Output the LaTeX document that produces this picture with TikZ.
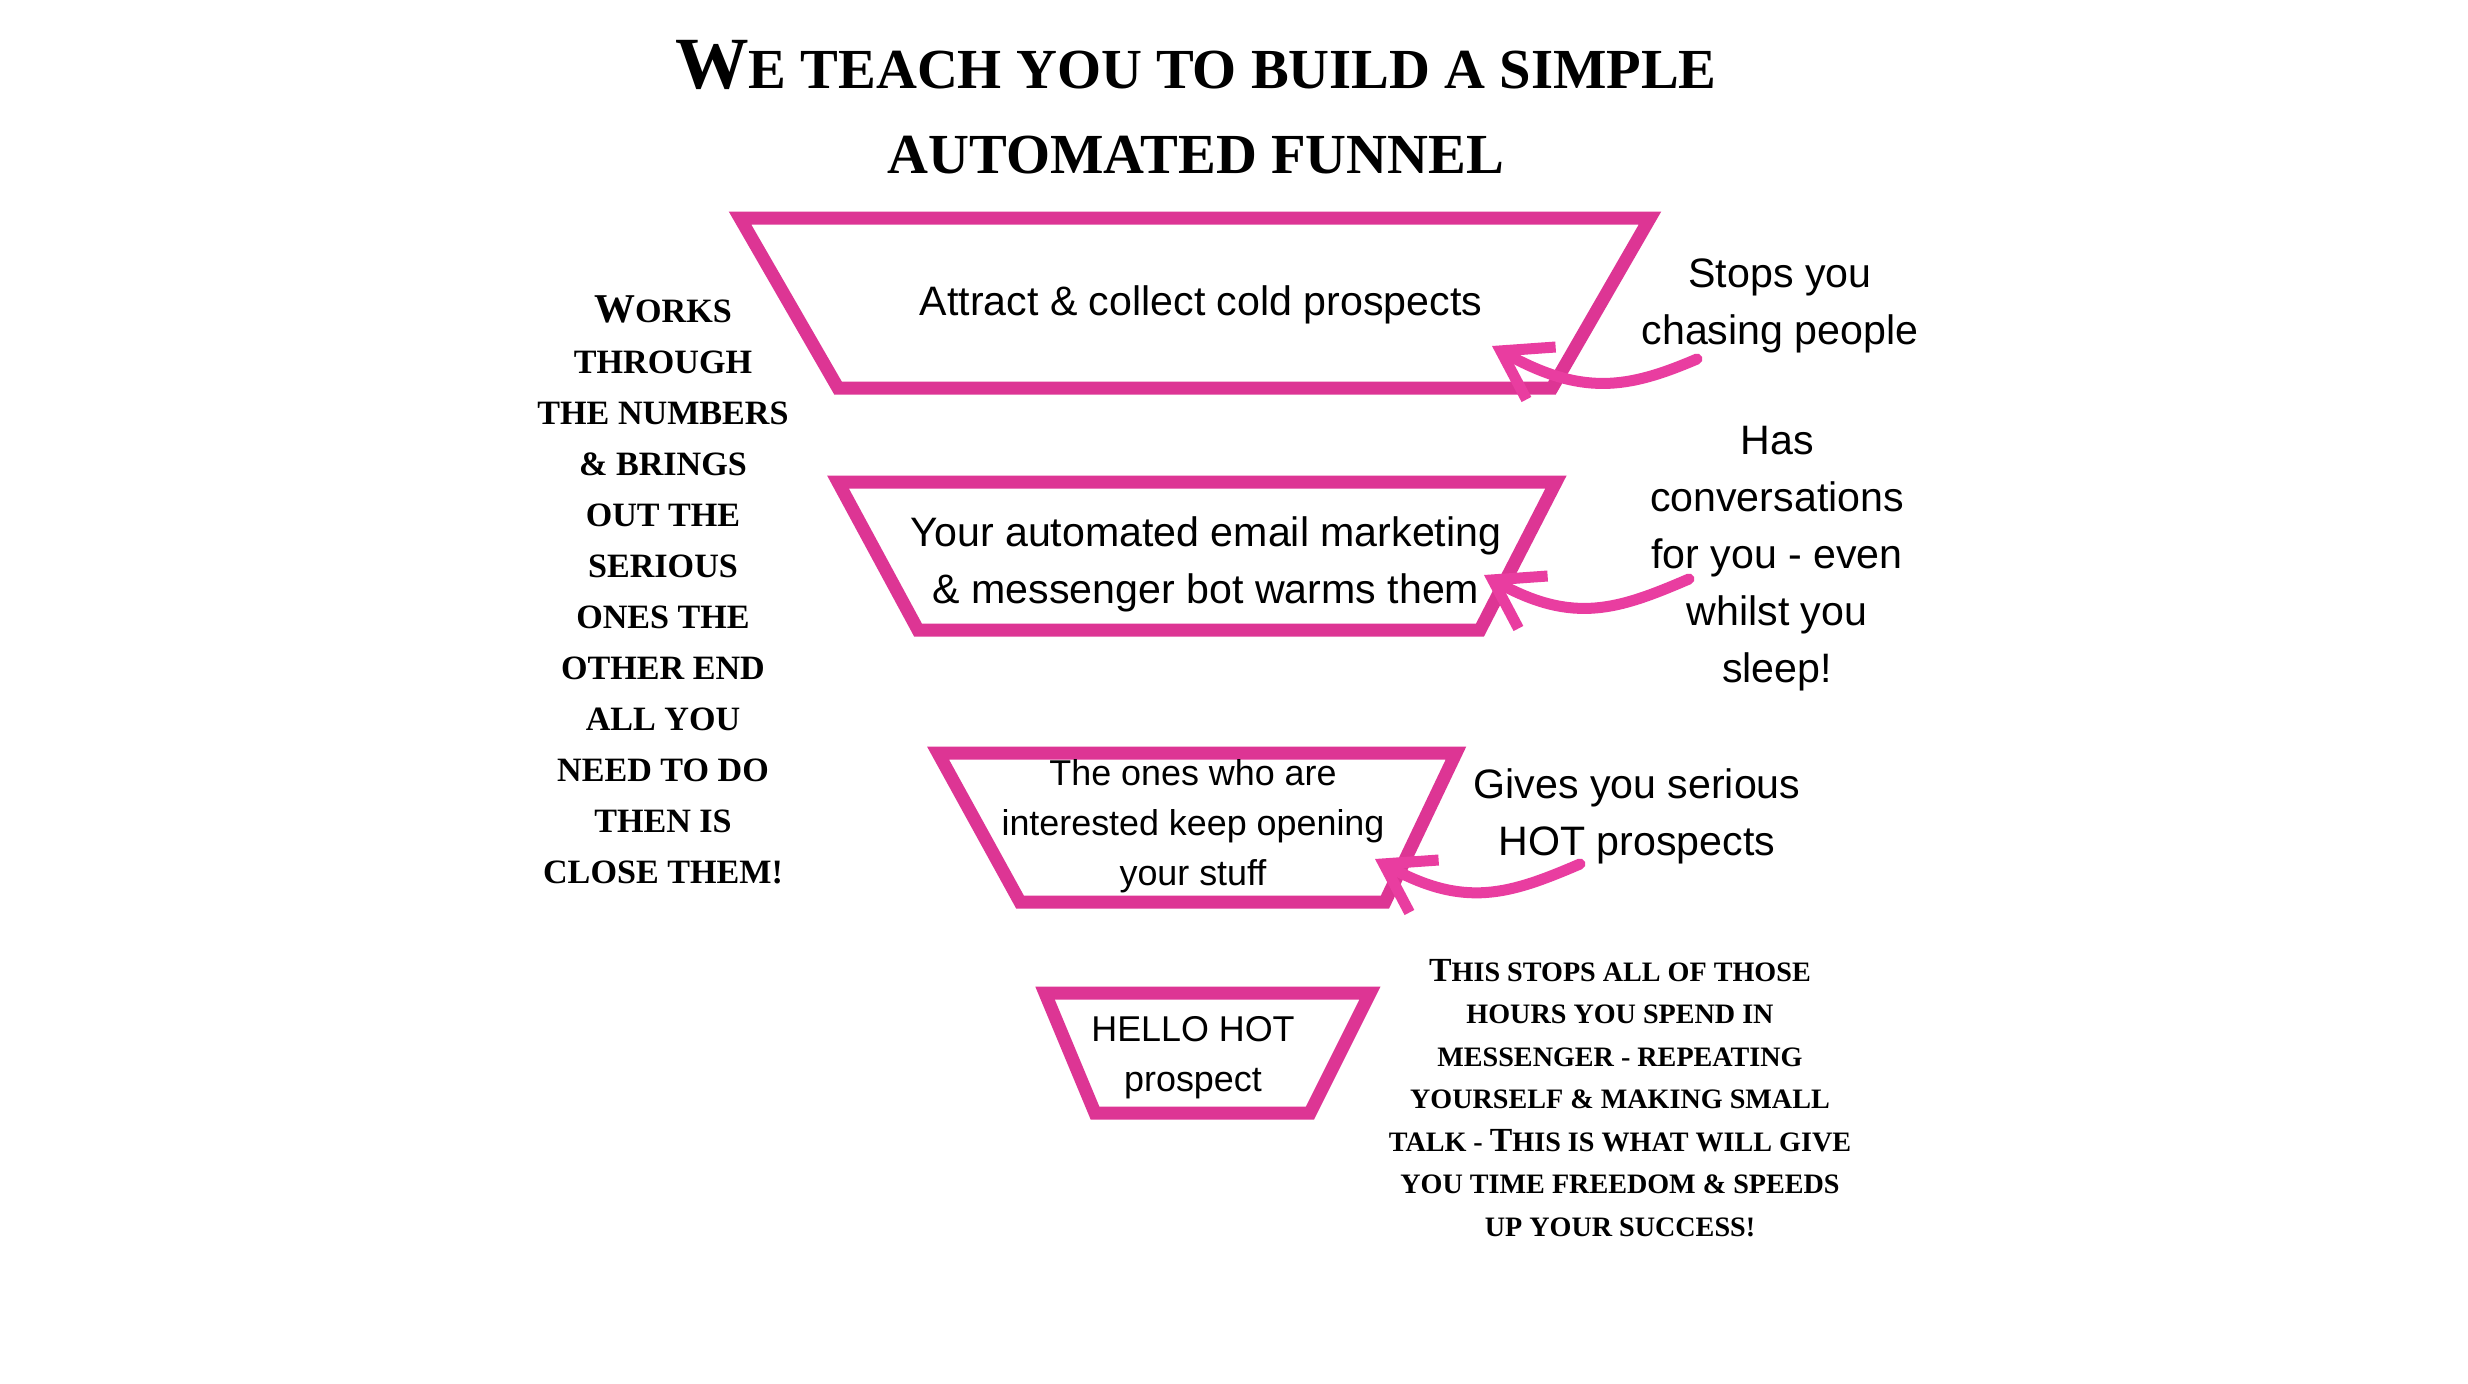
\documentclass[tikz,border=0pt]{standalone}
\usepackage{fontspec}
\setmainfont{Liberation Serif}
\newfontfamily\bodysans{Liberation Sans}
\usetikzlibrary{arrows.meta}
\definecolor{funnelPink}{RGB}{221, 53, 148}
\definecolor{arrowPink}{RGB}{233, 61, 160}
\newcommand{\upcap}[2][1.25]{\scalebox{#1}{#2}}

\begin{document}
\begin{tikzpicture}[
    x=0.01cm, y=-0.01cm,
    % Funnel styles
    funnel/.style={
        draw=funnelPink,
        line width=0.13cm,
        line join=miter
    },
    stage/.style={
        font=\fontsize{11.7}{16.2}\selectfont\bodysans,
        align=center,
        inner sep=0pt
    },
    smallstage/.style={
        font=\fontsize{10.2}{14.2}\selectfont\bodysans,
        align=center,
        inner sep=0pt
    },
    % Caps text styles
    heading/.style={
        font=\fontsize{16.1}{24.2}\selectfont\bfseries,
        align=center,
        inner sep=0pt
    },
    capsnote/.style={
        font=\fontsize{9.7}{14.5}\selectfont\bfseries,
        align=center,
        inner sep=0pt
    },
    capssmall/.style={
        font=\fontsize{8}{12.1}\selectfont\bfseries,
        align=center,
        inner sep=0pt
    },
    curl/.style={
        draw=arrowPink,
        line width=0.11cm,
        line cap=round,
        -{Straight Barb[length=4.6mm, width=6mm]}
    }
]
\fill[white] (0,0) rectangle (2468,1384);
\useasboundingbox (0,0) rectangle (2468,1384);

% Title
\node[heading] (title) at (1196,107) {\upcap[1.3]{W}E TEACH YOU TO BUILD A SIMPLE\\AUTOMATED FUNNEL};

% Funnel stages
\draw[funnel] (740,218) -- (1650,218) -- (1552,388) -- (838,388) -- cycle;
\draw[funnel] (838,482) -- (1556,482) -- (1480,630) -- (918,630) -- cycle;
\draw[funnel] (938,753) -- (1456,753) -- (1385,902) -- (1020,902) -- cycle;
\draw[funnel] (1045,993) -- (1370,993) -- (1310,1113) -- (1095,1113) -- cycle;

\node[stage] (stage1) at (1201,305) {Attract \& collect cold prospects};
\node[stage] (stage2) at (1206,564) {Your automated email marketing\\\& messenger bot warms them};
\node[smallstage] (stage3) at (1193,826) {The ones who are\\interested keep opening\\your stuff};
\node[smallstage] (stage4) at (1193,1058) {HELLO HOT\\prospect};

% Side notes
\node[capsnote] (leftnote) at (663,590) {\upcap[1.2]{W}ORKS\\THROUGH\\THE NUMBERS\\\& BRINGS\\OUT THE\\SERIOUS\\ONES THE\\OTHER END\\ALL YOU\\NEED TO DO\\THEN IS\\CLOSE THEM!};
\node[stage] (stopsnote) at (1780,306) {Stops you\\chasing people};
\node[stage] (hasnote) at (1777,559) {Has\\conversations\\for you - even\\whilst you\\sleep!};
\node[stage] (givesnote) at (1637,816) {Gives you serious\\HOT prospects};
\node[capssmall] (timenote) at (1620,1098) {\upcap[1.2]{T}HIS STOPS ALL OF THOSE\\HOURS YOU SPEND IN\\MESSENGER - REPEATING\\YOURSELF \& MAKING SMALL\\TALK - \upcap[1.2]{T}HIS IS WHAT WILL GIVE\\YOU TIME FREEDOM \& SPEEDS\\UP YOUR SUCCESS!};

% Arrows
\coordinate (tail1) at (1697,359);
\coordinate (tip1) at (1492,346);
\coordinate (tail2) at (1689,579);
\coordinate (tip2) at (1484,575);
\coordinate (tail3) at (1580,864);
\coordinate (tip3) at (1375,859);
\draw[curl] (tail1) .. controls +(-70,30) and +(90,50) .. (tip1);
\draw[curl] (tail2) .. controls +(-70,30) and +(90,50) .. (tip2);
\draw[curl] (tail3) .. controls +(-70,30) and +(90,50) .. (tip3);

\end{tikzpicture}
\end{document}
